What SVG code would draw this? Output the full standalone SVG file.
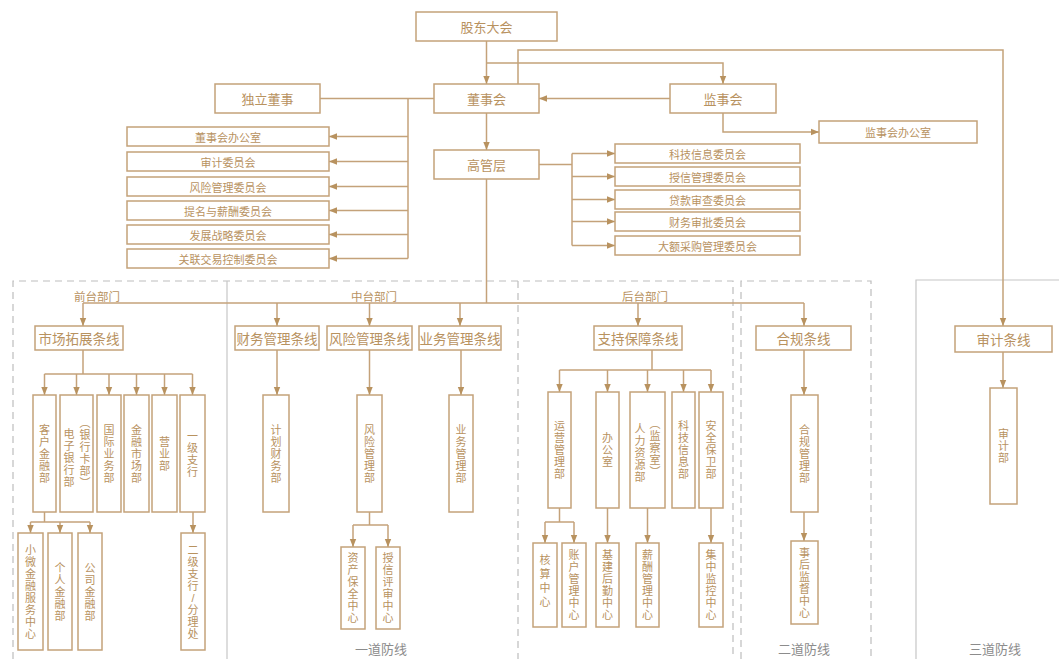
<svg xmlns="http://www.w3.org/2000/svg" width="1059" height="659" viewBox="0 0 1059 659">
<defs>
<style>
.b{fill:#fff;stroke:#c4a27a;stroke-width:1.5}
.t{font-family:"Noto Sans CJK SC","Noto Sans",sans-serif;fill:#b8925f;text-anchor:middle;dominant-baseline:central}
.f13{font-size:13px}
.f11{font-size:11px}
.f14{font-size:13.5px}
.v{font-family:"Liberation Sans","Noto Sans CJK SC",sans-serif;font-size:11px}
.vm{writing-mode:vertical-rl;font-size:11px;letter-spacing:1px}
.l{fill:none;stroke:#c4a27a;stroke-width:1.5}
.la{fill:none;stroke:#c4a27a;stroke-width:1.5;marker-end:url(#a)}
.dash{fill:none;stroke:#bdbdbd;stroke-width:1.2;stroke-dasharray:7 5}
.sol{fill:none;stroke:#c6c6c6;stroke-width:1.2}
.g{font-family:"Noto Sans CJK SC","Noto Sans",sans-serif;fill:#8c8c8c;font-size:13px;text-anchor:middle;dominant-baseline:central}
.lb{font-family:"Noto Sans CJK SC","Noto Sans",sans-serif;fill:#b8925f;font-size:11.5px;text-anchor:middle}
</style>
<marker id="a" viewBox="0 0 10 10" refX="10" refY="5" markerWidth="8" markerHeight="8" markerUnits="userSpaceOnUse" orient="auto"><path d="M0,1 L10,5 L0,9 z" fill="#b8925f"/></marker>
</defs>
<rect width="1059" height="659" fill="#fff"/>

<g id="regions">
<path class="dash" d="M13,659 V281 H733 V659"/>
<path class="dash" d="M518,281 V659"/>
<path class="sol" d="M227,281 V659"/>
<path class="dash" d="M741,659 V281 H871 V659"/>
<path class="sol" d="M916,659 V280 H1059"/>
<text class="lb" x="97" y="301">前台部门</text>
<text class="lb" x="374" y="301">中台部门</text>
<text class="lb" x="645" y="301">后台部门</text>
<text class="g" x="381" y="648">一道防线</text>
<text class="g" x="804" y="648">二道防线</text>
<text class="g" x="995" y="648">三道防线</text>
</g>

<g id="connectors">
<path class="la" d="M486.5,41 V84"/>
<path class="la" d="M486.5,63 H723 V84"/>
<path class="la" d="M670,98.5 H539"/>
<path class="l" d="M320,98.5 H434"/>
<path class="l" d="M408,98.5 V258.5"/>
<path class="la" d="M408,136.5 H329"/>
<path class="la" d="M408,161.5 H329"/>
<path class="la" d="M408,186.5 H329"/>
<path class="la" d="M408,210.5 H329"/>
<path class="la" d="M408,234.5 H329"/>
<path class="la" d="M408,258.5 H329"/>
<path class="la" d="M486.5,113 V150"/>
<path class="la" d="M723,113 V132 H819"/>
<path class="la" d="M518,84 V50 H1003 V326"/>
<path class="l" d="M539,164.5 H572"/>
<path class="l" d="M572,153.5 V245.5"/>
<path class="la" d="M572,153.5 H615"/>
<path class="la" d="M572,176.5 H615"/>
<path class="la" d="M572,199.5 H615"/>
<path class="la" d="M572,221.5 H615"/>
<path class="la" d="M572,245.5 H615"/>
<path class="l" d="M486.5,179 V303"/>
<path class="l" d="M83,303 H804"/>
<path class="la" d="M83,303 V326"/>
<path class="la" d="M277,303 V326"/>
<path class="la" d="M369.5,303 V326"/>
<path class="la" d="M460,303 V326"/>
<path class="la" d="M638,303 V326"/>
<path class="la" d="M804,303 V326"/>
<path class="l" d="M83,350 V374"/>
<path class="l" d="M44.5,374 H192.5"/>
<path class="la" d="M44.5,374 V395"/>
<path class="la" d="M76.5,374 V395"/>
<path class="la" d="M109,374 V395"/>
<path class="la" d="M136.5,374 V395"/>
<path class="la" d="M164.5,374 V395"/>
<path class="la" d="M192.5,374 V395"/>
<path class="l" d="M44.5,512 V522"/>
<path class="l" d="M30.5,522 H90"/>
<path class="la" d="M30.5,522 V533"/>
<path class="la" d="M60,522 V533"/>
<path class="la" d="M90,522 V533"/>
<path class="la" d="M193,512 V533"/>
<path class="la" d="M277,350 V395"/>
<path class="la" d="M369.5,350 V395"/>
<path class="l" d="M369.5,512 V525"/>
<path class="l" d="M353,525 H388"/>
<path class="la" d="M353,525 V547"/>
<path class="la" d="M388,525 V547"/>
<path class="la" d="M461,350 V395"/>
<path class="l" d="M652,350 V370"/>
<path class="l" d="M559.5,370 H711"/>
<path class="la" d="M559.5,370 V392"/>
<path class="la" d="M607.5,370 V392"/>
<path class="la" d="M647.5,370 V392"/>
<path class="la" d="M683.5,370 V392"/>
<path class="la" d="M711,370 V392"/>
<path class="l" d="M559.5,508 V522"/>
<path class="l" d="M545,522 H574"/>
<path class="la" d="M545,522 V543"/>
<path class="la" d="M574,522 V543"/>
<path class="la" d="M607.5,508 V543"/>
<path class="la" d="M647.5,508 V543"/>
<path class="la" d="M711,508 V543"/>
<path class="la" d="M804,350 V395"/>
<path class="la" d="M804,512 V541"/>
<path class="la" d="M1003,352 V388"/>
</g>

<g id="gudong"><rect class="b" x="416" y="12" width="141" height="29"/><text class="t f13" x="486.5" y="26.5">股东大会</text></g>
<g id="dongshihui"><rect class="b" x="434" y="84" width="105" height="29"/><text class="t f13" x="486.5" y="98.5">董事会</text></g>
<g id="duli"><rect class="b" x="215" y="84" width="105" height="29"/><text class="t f13" x="267.5" y="98.5">独立董事</text></g>
<g id="jianshihui"><rect class="b" x="670" y="84" width="106" height="29"/><text class="t f13" x="723" y="98.5">监事会</text></g>
<g id="gaoguan"><rect class="b" x="434" y="150" width="105" height="29"/><text class="t f13" x="486.5" y="164.5">高管层</text></g>
<g id="jsbgs"><rect class="b" x="819" y="121" width="158" height="22"/><text class="t f11" x="898" y="132">监事会办公室</text></g>

<g id="dsbgs"><rect class="b" x="127" y="127" width="202" height="19"/><text class="t f11" x="228" y="136.5">董事会办公室</text></g>
<g id="sjwyh"><rect class="b" x="127" y="152" width="202" height="19"/><text class="t f11" x="228" y="161.5">审计委员会</text></g>
<g id="fxwyh"><rect class="b" x="127" y="177" width="202" height="19"/><text class="t f11" x="228" y="186.5">风险管理委员会</text></g>
<g id="tmwyh"><rect class="b" x="127" y="201" width="202" height="19"/><text class="t f11" x="228" y="210.5">提名与薪酬委员会</text></g>
<g id="fzwyh"><rect class="b" x="127" y="225" width="202" height="19"/><text class="t f11" x="228" y="234.5">发展战略委员会</text></g>
<g id="gljywyh"><rect class="b" x="127" y="249" width="202" height="19"/><text class="t f11" x="228" y="258.5">关联交易控制委员会</text></g>

<g id="kjwyh"><rect class="b" x="615" y="144" width="185" height="19"/><text class="t f11" x="707.5" y="153.5">科技信息委员会</text></g>
<g id="sxwyh"><rect class="b" x="615" y="167" width="185" height="19"/><text class="t f11" x="707.5" y="176.5">授信管理委员会</text></g>
<g id="dkwyh"><rect class="b" x="615" y="190" width="185" height="19"/><text class="t f11" x="707.5" y="199.5">贷款审查委员会</text></g>
<g id="cwwyh"><rect class="b" x="615" y="212" width="185" height="19"/><text class="t f11" x="707.5" y="221.5">财务审批委员会</text></g>
<g id="decgwyh"><rect class="b" x="615" y="236" width="185" height="19"/><text class="t f11" x="707.5" y="245.5">大额采购管理委员会</text></g>

<g id="sctz"><rect class="b" x="35" y="326" width="88" height="24"/><text class="t f14" x="79" y="338">市场拓展条线</text></g>
<g id="cwgl"><rect class="b" x="235" y="326" width="84" height="24"/><text class="t f14" x="277" y="338">财务管理条线</text></g>
<g id="fxgl"><rect class="b" x="327" y="326" width="85" height="24"/><text class="t f14" x="369.5" y="338">风险管理条线</text></g>
<g id="ywgl"><rect class="b" x="419" y="326" width="82" height="24"/><text class="t f14" x="460" y="338">业务管理条线</text></g>
<g id="zcbz"><rect class="b" x="594" y="326" width="88" height="24"/><text class="t f14" x="638" y="338">支持保障条线</text></g>
<g id="hgtx"><rect class="b" x="756" y="326" width="95" height="24"/><text class="t f14" x="803.5" y="338">合规条线</text></g>
<g id="sjtx"><rect class="b" x="955" y="326" width="97" height="26"/><text class="t f14" x="1003.5" y="339">审计条线</text></g>

<g id="khjrb"><rect class="b" x="33" y="395" width="23" height="117"/><text class="t v"><tspan x="44.5" y="429.5">客</tspan><tspan x="44.5" y="441.5">户</tspan><tspan x="44.5" y="453.5">金</tspan><tspan x="44.5" y="465.5">融</tspan><tspan x="44.5" y="477.5">部</tspan></text></g>
<g id="dzyhb"><rect class="b" x="60" y="395" width="33" height="117"/><text class="t v"><tspan x="69" y="434">电</tspan><tspan x="69" y="446">子</tspan><tspan x="69" y="458">银</tspan><tspan x="69" y="470">行</tspan><tspan x="69" y="482">部</tspan></text><text class="t vm" x="85" y="453">（银行卡部）</text></g>
<g id="gjywb"><rect class="b" x="97" y="395" width="24" height="117"/><text class="t v"><tspan x="109" y="429.5">国</tspan><tspan x="109" y="441.5">际</tspan><tspan x="109" y="453.5">业</tspan><tspan x="109" y="465.5">务</tspan><tspan x="109" y="477.5">部</tspan></text></g>
<g id="jrscb"><rect class="b" x="124" y="395" width="25" height="117"/><text class="t v"><tspan x="136.5" y="429.5">金</tspan><tspan x="136.5" y="441.5">融</tspan><tspan x="136.5" y="453.5">市</tspan><tspan x="136.5" y="465.5">场</tspan><tspan x="136.5" y="477.5">部</tspan></text></g>
<g id="yyb"><rect class="b" x="152" y="395" width="25" height="117"/><text class="t v"><tspan x="164.5" y="441.5">营</tspan><tspan x="164.5" y="453.5">业</tspan><tspan x="164.5" y="465.5">部</tspan></text></g>
<g id="yjzh"><rect class="b" x="180" y="395" width="25" height="117"/><text class="t v"><tspan x="192.5" y="435.5">一</tspan><tspan x="192.5" y="447.5">级</tspan><tspan x="192.5" y="459.5">支</tspan><tspan x="192.5" y="471.5">行</tspan></text></g>
<g id="xwjr"><rect class="b" x="18" y="533" width="25" height="117"/><text class="t v"><tspan x="30.5" y="549.5">小</tspan><tspan x="30.5" y="561.5">微</tspan><tspan x="30.5" y="573.5">金</tspan><tspan x="30.5" y="585.5">融</tspan><tspan x="30.5" y="597.5">服</tspan><tspan x="30.5" y="609.5">务</tspan><tspan x="30.5" y="621.5">中</tspan><tspan x="30.5" y="633.5">心</tspan></text></g>
<g id="grjr"><rect class="b" x="48" y="533" width="24" height="117"/><text class="t v"><tspan x="60" y="567.5">个</tspan><tspan x="60" y="579.5">人</tspan><tspan x="60" y="591.5">金</tspan><tspan x="60" y="603.5">融</tspan><tspan x="60" y="615.5">部</tspan></text></g>
<g id="gsjr"><rect class="b" x="78" y="533" width="24" height="117"/><text class="t v"><tspan x="90" y="567.5">公</tspan><tspan x="90" y="579.5">司</tspan><tspan x="90" y="591.5">金</tspan><tspan x="90" y="603.5">融</tspan><tspan x="90" y="615.5">部</tspan></text></g>
<g id="ejzh"><rect class="b" x="181" y="533" width="24" height="117"/><text class="t v"><tspan x="193" y="549.5">二</tspan><tspan x="193" y="561.5">级</tspan><tspan x="193" y="573.5">支</tspan><tspan x="193" y="585.5">行</tspan><tspan x="193" y="597.5">/</tspan><tspan x="193" y="609.5">分</tspan><tspan x="193" y="621.5">理</tspan><tspan x="193" y="633.5">处</tspan></text></g>

<g id="jhcwb"><rect class="b" x="263" y="395" width="26" height="117"/><text class="t v"><tspan x="276" y="429.5">计</tspan><tspan x="276" y="441.5">划</tspan><tspan x="276" y="453.5">财</tspan><tspan x="276" y="465.5">务</tspan><tspan x="276" y="477.5">部</tspan></text></g>
<g id="fxglb"><rect class="b" x="357" y="395" width="25" height="117"/><text class="t v"><tspan x="369.5" y="429.5">风</tspan><tspan x="369.5" y="441.5">险</tspan><tspan x="369.5" y="453.5">管</tspan><tspan x="369.5" y="465.5">理</tspan><tspan x="369.5" y="477.5">部</tspan></text></g>
<g id="ywglb"><rect class="b" x="449" y="395" width="24" height="117"/><text class="t v"><tspan x="461" y="429.5">业</tspan><tspan x="461" y="441.5">务</tspan><tspan x="461" y="453.5">管</tspan><tspan x="461" y="465.5">理</tspan><tspan x="461" y="477.5">部</tspan></text></g>
<g id="zcbq"><rect class="b" x="341" y="547" width="24" height="82"/><text class="t v"><tspan x="353" y="558">资</tspan><tspan x="353" y="570">产</tspan><tspan x="353" y="582">保</tspan><tspan x="353" y="594">全</tspan><tspan x="353" y="606">中</tspan><tspan x="353" y="618">心</tspan></text></g>
<g id="sxps"><rect class="b" x="376" y="547" width="24" height="82"/><text class="t v"><tspan x="388" y="558">授</tspan><tspan x="388" y="570">信</tspan><tspan x="388" y="582">评</tspan><tspan x="388" y="594">审</tspan><tspan x="388" y="606">中</tspan><tspan x="388" y="618">心</tspan></text></g>

<g id="yyglb"><rect class="b" x="548" y="392" width="23" height="116"/><text class="t v"><tspan x="559.5" y="426">运</tspan><tspan x="559.5" y="438">营</tspan><tspan x="559.5" y="450">管</tspan><tspan x="559.5" y="462">理</tspan><tspan x="559.5" y="474">部</tspan></text></g>
<g id="bgs"><rect class="b" x="596" y="392" width="23" height="116"/><text class="t v"><tspan x="607.5" y="438">办</tspan><tspan x="607.5" y="450">公</tspan><tspan x="607.5" y="462">室</tspan></text></g>
<g id="rlzyb"><rect class="b" x="630" y="392" width="35" height="116"/><text class="t v"><tspan x="640" y="429">人</tspan><tspan x="640" y="441">力</tspan><tspan x="640" y="453">资</tspan><tspan x="640" y="465">源</tspan><tspan x="640" y="477">部</tspan></text><text class="t vm" x="655" y="448">（监察室）</text></g>
<g id="kjxxb"><rect class="b" x="672" y="392" width="23" height="116"/><text class="t v"><tspan x="683.5" y="426">科</tspan><tspan x="683.5" y="438">技</tspan><tspan x="683.5" y="450">信</tspan><tspan x="683.5" y="462">息</tspan><tspan x="683.5" y="474">部</tspan></text></g>
<g id="aqbwb"><rect class="b" x="699" y="392" width="24" height="116"/><text class="t v"><tspan x="711" y="426">安</tspan><tspan x="711" y="438">全</tspan><tspan x="711" y="450">保</tspan><tspan x="711" y="462">卫</tspan><tspan x="711" y="474">部</tspan></text></g>
<g id="hszx"><rect class="b" x="533" y="543" width="24" height="84"/><text class="t v"><tspan x="545" y="560">核</tspan><tspan x="545" y="574">算</tspan><tspan x="545" y="588">中</tspan><tspan x="545" y="602">心</tspan></text></g>
<g id="zhgl"><rect class="b" x="562" y="543" width="24" height="84"/><text class="t v"><tspan x="574" y="555">账</tspan><tspan x="574" y="567">户</tspan><tspan x="574" y="579">管</tspan><tspan x="574" y="591">理</tspan><tspan x="574" y="603">中</tspan><tspan x="574" y="615">心</tspan></text></g>
<g id="jjhq"><rect class="b" x="596" y="543" width="23" height="84"/><text class="t v"><tspan x="607.5" y="555">基</tspan><tspan x="607.5" y="567">建</tspan><tspan x="607.5" y="579">后</tspan><tspan x="607.5" y="591">勤</tspan><tspan x="607.5" y="603">中</tspan><tspan x="607.5" y="615">心</tspan></text></g>
<g id="xcgl"><rect class="b" x="636" y="543" width="23" height="84"/><text class="t v"><tspan x="647.5" y="555">薪</tspan><tspan x="647.5" y="567">酬</tspan><tspan x="647.5" y="579">管</tspan><tspan x="647.5" y="591">理</tspan><tspan x="647.5" y="603">中</tspan><tspan x="647.5" y="615">心</tspan></text></g>
<g id="jzjk"><rect class="b" x="699" y="543" width="24" height="84"/><text class="t v"><tspan x="711" y="555">集</tspan><tspan x="711" y="567">中</tspan><tspan x="711" y="579">监</tspan><tspan x="711" y="591">控</tspan><tspan x="711" y="603">中</tspan><tspan x="711" y="615">心</tspan></text></g>

<g id="hgglb"><rect class="b" x="791" y="395" width="27" height="117"/><text class="t v"><tspan x="804.5" y="429.5">合</tspan><tspan x="804.5" y="441.5">规</tspan><tspan x="804.5" y="453.5">管</tspan><tspan x="804.5" y="465.5">理</tspan><tspan x="804.5" y="477.5">部</tspan></text></g>
<g id="shjd"><rect class="b" x="791" y="541" width="27" height="83"/><text class="t v"><tspan x="804.5" y="552.5">事</tspan><tspan x="804.5" y="564.5">后</tspan><tspan x="804.5" y="576.5">监</tspan><tspan x="804.5" y="588.5">督</tspan><tspan x="804.5" y="600.5">中</tspan><tspan x="804.5" y="612.5">心</tspan></text></g>
<g id="sjb"><rect class="b" x="990" y="388" width="27" height="116"/><text class="t v"><tspan x="1003.5" y="434">审</tspan><tspan x="1003.5" y="446">计</tspan><tspan x="1003.5" y="458">部</tspan></text></g>
</svg>
